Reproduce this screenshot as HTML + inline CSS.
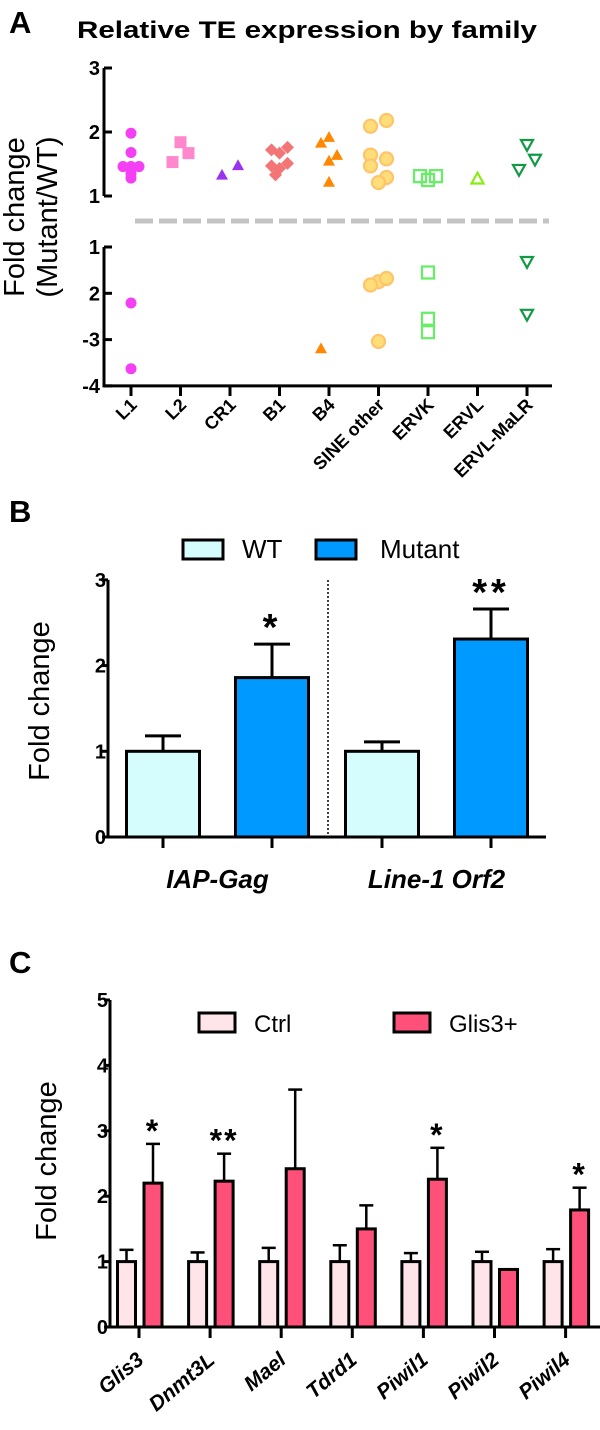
<!DOCTYPE html>
<html><head><meta charset="utf-8"><style>
body{margin:0;background:#fff}
svg{display:block;font-family:"Liberation Sans",Arial,sans-serif}
</style></head><body>
<svg id="fig" width="600" height="1430" viewBox="0 0 600 1430" xmlns="http://www.w3.org/2000/svg">
<g id="pa"></g>
<g id="pb"></g>
<g id="pc"></g>
</svg>
<script>
// ---------- Panel A data ----------
const aCategories = ["L1","L2","CR1","B1","B4","SINE other","ERVK","ERVL","ERVL-MaLR"];
const aUpL1 = [1.98,1.68,1.46,1.46,1.46,1.35,1.28];
const aUpL2 = [1.53,1.84,1.67];
const aUpCR1 = [1.33,1.48];
const aUpB1 = [1.72,1.67,1.76,1.47,1.43,1.51,1.33];
const aUpB4 = [1.83,1.92,1.64,1.55,1.22];
const aUpSINE = [2.09,2.18,1.64,1.58,1.47,1.29,1.21];
const aUpERVK = [1.31,1.25,1.31];
const aUpERVL = [1.27];
const aUpMaLR = [1.80,1.41,1.57];
const aDownL1 = [2.21,3.63];
const aDownL2 = [];
const aDownCR1 = [];
const aDownB1 = [];
const aDownB4 = [3.19];
const aDownSINE = [1.75,1.82,1.68,3.04];
const aDownERVK = [1.55,2.84,2.55];
const aDownERVL = [];
const aDownMaLR = [1.32,2.46];
const aUpTicks = ["3","2","1"];
const aDownTicks = ["1","2","-3","-4"];
// jitter (layout only)
const jit = [[0,0,0,-8,8,0,0],[-8,0,8],[-8,8],[-8,0,8,-8,0,8,-4],[-8,0,8,0,0],[-8,8,-8,8,-8,8,0],[-8,0,8],[0],[0,-8,8]];
const jitD = [[0,0],[],[],[0],[-8,0,8,0],[0,-8,8],[],[],[0,0]];

const NS="http://www.w3.org/2000/svg";
function mk(parent,tag,attrs,name,text){
  const e=document.createElementNS(NS,tag);
  for(const k in attrs)e.setAttribute(k,attrs[k]);
  
  
  if(text!==undefined)e.textContent=text;
  parent.appendChild(e);return e;
}
function fs(size,bold,italic){return `font-size:${size}px;font-weight:${bold?'bold':'normal'};font-style:${italic?'italic':'normal'}`;}
const TK=20;
const pa=document.getElementById('pa');
mk(pa,'text',{x:9,y:33,style:fs(31,true)},'panel-a-letter','A');
mk(pa,'text',{x:77,y:38,style:fs(24,true),textLength:460,lengthAdjust:'spacingAndGlyphs'},'chart-a-title','Relative TE expression by family');
mk(pa,'text',{x:0,y:0,style:fs(29),transform:'translate(24,217) rotate(-90)','text-anchor':'middle'},'y-axis-title-a','Fold change');
mk(pa,'text',{x:0,y:0,style:fs(29),transform:'translate(57,217) rotate(-90)','text-anchor':'middle'},'y-axis-title-a-sub','(Mutant/WT)');
const ax0=104;
const yUp=v=>196-(v-1)*64;
const yDn=v=>247+(v-1)*46.3;
const xA=i=>131+i*49.5;
mk(pa,'path',{d:`M${ax0} ${yUp(3)} V${yUp(1)}`,stroke:'#000','stroke-width':3,fill:'none'},'y-axis-a-upper');
mk(pa,'path',{d:`M${ax0} ${yDn(1)} V${yDn(4)+1.5} M${ax0} ${yDn(4)} H552`,stroke:'#000','stroke-width':3,fill:'none'},'axes-a-lower');
aUpTicks.forEach((t,i)=>{const y=yUp(3-i);
  mk(pa,'line',{x1:ax0,x2:ax0+8,y1:y,y2:y,stroke:'#000','stroke-width':3},'y-tick-a-up');
  mk(pa,'text',{x:ax0-4,y:y+7,style:fs(TK,true),'text-anchor':'end'},'y-tick-label-a-up',t);});
aDownTicks.forEach((t,i)=>{const y=yDn(i+1);
  mk(pa,'line',{x1:ax0,x2:ax0+8,y1:y,y2:y,stroke:'#000','stroke-width':3},'y-tick-a-down');
  mk(pa,'text',{x:ax0-4,y:y+7,style:fs(TK,true),'text-anchor':'end'},'y-tick-label-a-down',t);});
mk(pa,'line',{x1:135,x2:549,y1:221,y2:221,stroke:'#c4c4c4','stroke-width':5,'stroke-dasharray':'18 6'},'axis-break-line');
aCategories.forEach((c,i)=>{const x=xA(i);
  mk(pa,'line',{x1:x,x2:x,y1:385,y2:396,stroke:'#000','stroke-width':3},'x-tick-a');
  mk(pa,'text',{x:0,y:0,style:fs(18,true),'text-anchor':'end',transform:`translate(${x+7},${406}) rotate(-45)`},'x-tick-label-a',c);});
const ups=[aUpL1,aUpL2,aUpCR1,aUpB1,aUpB4,aUpSINE,aUpERVK,aUpERVL,aUpMaLR];
const dns=[aDownL1,aDownL2,aDownCR1,aDownB1,aDownB4,aDownSINE,aDownERVK,aDownERVL,aDownMaLR];
const sty=[
 {s:'circle',f:'#f53ff5',st:'none'},{s:'square',f:'#ff88cc',st:'none'},{s:'tri',f:'#9933ee',st:'none'},
 {s:'diamond',f:'#f47575',st:'none'},{s:'tri',f:'#ff8800',st:'none'},{s:'circle',f:'#ffde7a',st:'#ffc46a',r:6.5},
 {s:'square',f:'none',st:'#66ee66'},{s:'tri',f:'none',st:'#88ee11'},{s:'itri',f:'none',st:'#119944'}];
function marker(x,y,st,name){
  const sw=st.st==='none'?0:2.2;
  const a={fill:st.f,stroke:st.st,'stroke-width':sw};
  if(st.s==='circle'){a.cx=x;a.cy=y;a.r=st.r||5.5;return mk(pa,'circle',a,name);}
  if(st.s==='square'){const h=6;a.d=`M${x-h} ${y-h}h${2*h}v${2*h}h${-2*h}z`;}
  if(st.s==='diamond'){const h=6.5;a.d=`M${x} ${y-h}L${x+h} ${y}L${x} ${y+h}L${x-h} ${y}z`;}
  if(st.s==='tri'){const h=6;a.d=`M${x} ${y-h}L${x+h} ${y+h*0.8}L${x-h} ${y+h*0.8}z`;}
  if(st.s==='itri'){const h=6;a.d=`M${x} ${y+h}L${x+h} ${y-h*0.8}L${x-h} ${y-h*0.8}z`;}
  return mk(pa,'path',a,name);
}
ups.forEach((arr,i)=>arr.forEach((v,j)=>marker(xA(i)+(jit[i][j]||0),yUp(v),sty[i],'point-up-'+aCategories[i].toLowerCase().replace(/ /g,'-'))));
dns.forEach((arr,i)=>arr.forEach((v,j)=>marker(xA(i)+(jitD[i][j]||0),yDn(v),sty[i],'point-down-'+aCategories[i].toLowerCase().replace(/ /g,'-'))));

// ---------- Panel B data ----------
const bGroups = ["IAP-Gag","Line-1 Orf2"];
const bWT = [1.0,1.0];
const bWTErr = [0.18,0.11];
const bMut = [1.86,2.31];
const bMutErr = [0.39,0.35];
const bStars = ["*","**"];
const bTicks = ["0","1","2","3"];
const pb=document.getElementById('pb');
mk(pb,'text',{x:9,y:522,style:fs(31,true)},'panel-b-letter','B');
mk(pb,'rect',{x:183,y:540,width:40,height:19,fill:'#d5fdfd',stroke:'#000','stroke-width':3},'legend-swatch-wt');
mk(pb,'text',{x:242,y:558,style:fs(26)},'legend-label-wt','WT');
mk(pb,'rect',{x:316,y:540,width:40,height:19,fill:'#0099ff',stroke:'#000','stroke-width':3},'legend-swatch-mutant');
mk(pb,'text',{x:380,y:558,style:fs(26)},'legend-label-mutant','Mutant');
mk(pb,'text',{x:0,y:0,style:fs(29),transform:'translate(49,701) rotate(-90)','text-anchor':'middle'},'y-axis-title-b','Fold change');
const yB=v=>837-v*85.7;
const bx=108;
mk(pb,'path',{d:`M${bx} ${yB(3)} V${yB(0)} H546`,stroke:'#000','stroke-width':3,fill:'none'},'axes-b');
bTicks.forEach((t,i)=>{const y=yB(i);
  mk(pb,'line',{x1:bx-6,x2:bx,y1:y,y2:y,stroke:'#000','stroke-width':3},'y-tick-b');
  mk(pb,'text',{x:bx-2,y:y+7,style:fs(TK,true),'text-anchor':'end'},'y-tick-label-b',t);});
mk(pb,'line',{x1:328,x2:328,y1:580,y2:837,stroke:'#000','stroke-width':1.5,'stroke-dasharray':'2 2'},'group-divider');
const bW=73;
bGroups.forEach((g,i)=>{
  const cw=163+i*219, cm=272+i*219;
  [[cw,bWT[i],bWTErr[i],'#d5fdfd','bar-wt'],[cm,bMut[i],bMutErr[i],'#0099ff','bar-mutant']].forEach(([c,v,e,col,n])=>{
    mk(pb,'line',{x1:c,x2:c,y1:yB(v),y2:yB(v+e),stroke:'#000','stroke-width':3},'error-bar');
    mk(pb,'line',{x1:c-18,x2:c+18,y1:yB(v+e),y2:yB(v+e),stroke:'#000','stroke-width':3},'error-cap');
    mk(pb,'rect',{x:c-bW/2,y:yB(v),width:bW,height:yB(0)-yB(v),fill:col,stroke:'#000','stroke-width':3},n);
    mk(pb,'line',{x1:c,x2:c,y1:837,y2:848,stroke:'#000','stroke-width':3},'x-tick-b');
  });
  mk(pb,'text',{x:cm,y:yB(bMut[i]+bMutErr[i])-4,style:fs(38,true),'text-anchor':'middle','letter-spacing':4},'significance-star',bStars[i]);
  mk(pb,'text',{x:(cw+cm)/2,y:888,style:fs(26,true,true),'text-anchor':'middle'},'x-label-b',g);
});

// ---------- Panel C data ----------
const cGenes = ["Glis3","Dnmt3L","Mael","Tdrd1","Piwil1","Piwil2","Piwil4"];
const cCtrl = [1,1,1,1,1,1,1];
const cCtrlErr = [0.18,0.14,0.21,0.25,0.13,0.15,0.19];
const cGlis = [2.2,2.23,2.42,1.5,2.26,0.88,1.79];
const cGlisErr = [0.6,0.42,1.21,0.36,0.48,0,0.34];
const cStars = ["*","**","","","*","","*"];
const cTicks = ["0","1","2","3","4","5"];
const pc=document.getElementById('pc');
mk(pc,'text',{x:9,y:973,style:fs(31,true)},'panel-c-letter','C');
const yC=v=>1327-v*65.4;
const cx0=110;
mk(pc,'path',{d:`M${cx0} ${yC(5)} V${yC(0)} H600`,stroke:'#000','stroke-width':3,fill:'none'},'axes-c');
cTicks.forEach((t,i)=>{const y=yC(i);
  mk(pc,'line',{x1:cx0-6,x2:cx0,y1:y,y2:y,stroke:'#000','stroke-width':3},'y-tick-c');
  mk(pc,'text',{x:cx0-2,y:y+7,style:fs(TK,true),'text-anchor':'end'},'y-tick-label-c',t);});
mk(pc,'text',{x:0,y:0,style:fs(29),transform:'translate(56,1161) rotate(-90)','text-anchor':'middle'},'y-axis-title-c','Fold change');
mk(pc,'rect',{x:199,y:1013,width:36,height:19,fill:'#ffe4ea',stroke:'#000','stroke-width':3},'legend-swatch-ctrl');
mk(pc,'text',{x:254,y:1032,style:fs(24)},'legend-label-ctrl','Ctrl');
mk(pc,'rect',{x:394,y:1013,width:36,height:19,fill:'#ff507a',stroke:'#000','stroke-width':3},'legend-swatch-glis3');
mk(pc,'text',{x:449,y:1032,style:fs(24)},'legend-label-glis3','Glis3+');
cGenes.forEach((g,i)=>{
  const gc=139+i*71.1, c1=gc-12.5, c2=gc+14, w=18;
  [[c1,cCtrl[i],cCtrlErr[i],'#ffe4ea','bar-ctrl'],[c2,cGlis[i],cGlisErr[i],'#ff507a','bar-glis3']].forEach(([c,v,e,col,n])=>{
    if(e>0){
      mk(pc,'line',{x1:c,x2:c,y1:yC(v),y2:yC(v+e),stroke:'#000','stroke-width':2.5},'error-bar');
      mk(pc,'line',{x1:c-7,x2:c+7,y1:yC(v+e),y2:yC(v+e),stroke:'#000','stroke-width':2.5},'error-cap');
    }
    mk(pc,'rect',{x:c-w/2,y:yC(v),width:w,height:yC(0)-yC(v),fill:col,stroke:'#000','stroke-width':3},n);
  });
  mk(pc,'line',{x1:gc,x2:gc,y1:1327,y2:1338,stroke:'#000','stroke-width':3},'x-tick-c');
  if(cStars[i])mk(pc,'text',{x:c2,y:yC(cGlis[i]+cGlisErr[i])-2,style:fs(32,true),'text-anchor':'middle','letter-spacing':2},'significance-star',cStars[i]);
  mk(pc,'text',{x:0,y:0,style:fs(21,true,true),'text-anchor':'end',transform:`translate(${gc+6},${1362}) rotate(-40)`},'x-tick-label-c',g);
});
</script>
</body></html>
